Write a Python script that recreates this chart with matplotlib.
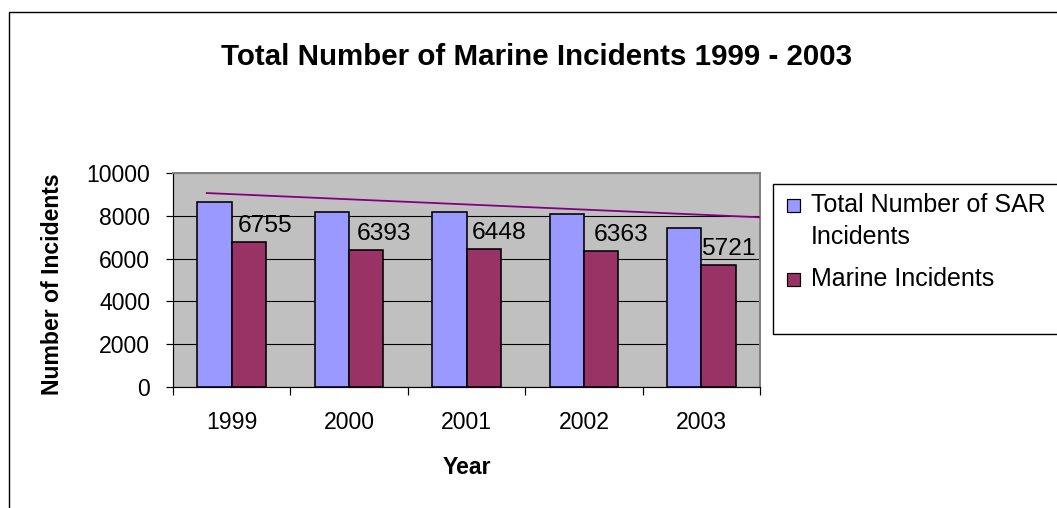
import matplotlib
matplotlib.use("Agg")
import matplotlib.pyplot as plt
from matplotlib.patches import Rectangle
import numpy as np

# ---- data ----
years = ["1999", "2000", "2001", "2002", "2003"]
sar_total = [8630, 8165, 8165, 8070, 7415]
marine = [6755, 6393, 6448, 6363, 5721]
trend_x = [-0.22, 4.5]
trend_values = [9065, 7930]
y_ticks = [0, 2000, 4000, 6000, 8000, 10000]

title = "Total Number of Marine Incidents 1999 - 2003"
x_title = "Year"
y_title = "Number of Incidents"
series_names = ["Total Number of SAR\nIncidents", "Marine Incidents"]

# ---- style ----
plt.rcParams["font.family"] = ["Liberation Sans", "DejaVu Sans"]
BLUE = "#9999FF"
PLUM = "#993366"
PLOT_BG = "#C0C0C0"
W, H = 1057, 508
DPI = 100
PX = 72.0 / DPI  # points per pixel

fig = plt.figure(figsize=(W / DPI, H / DPI), dpi=DPI)
fig.patch.set_facecolor("white")


def fx(px):
    return px / W


def fy(py):
    return 1 - py / H


# outer chart border (runs off the right and bottom edges)
fig.patches.append(Rectangle((fx(9), fy(600)), fx(1200), fy(12) - fy(600),
                             transform=fig.transFigure, fill=False,
                             edgecolor="black", linewidth=1.4 * PX))

ax = fig.add_axes([fx(173), fy(387), fx(760) - fx(173), fy(173) - fy(387)])
ax.set_facecolor(PLOT_BG)

x = np.arange(len(years))
bw = 0.292
ax.bar(x - bw / 2, sar_total, width=bw, color=BLUE, edgecolor="black",
       linewidth=1.6 * PX, zorder=3)
bars_m = ax.bar(x + bw / 2, marine, width=bw, color=PLUM, edgecolor="black",
                linewidth=1.6 * PX, zorder=3)

ax.plot(trend_x, trend_values, color="#800080", linewidth=1.8 * PX, zorder=4,
        solid_capstyle="butt")

# value labels on the marine bars
label_dx = [16, 18, 15.5, 20, 9.5]
for xi, v, dx in zip(x, marine, label_dx):
    ax.annotate(str(v), (xi + bw / 2, v), xytext=(dx, 10),
                textcoords="offset pixels", ha="center", va="baseline",
                fontsize=24.5 * PX, zorder=5)

ax.set_xlim(-0.5, 4.5)
ax.set_ylim(0, 10000)
ax.set_yticks(y_ticks)
ax.set_yticklabels([str(t) for t in y_ticks])
ax.yaxis.grid(True, color="black", linewidth=1.1 * PX, zorder=1)
ax.set_axisbelow(True)

# category boundaries as ticks, year names centred between them
ax.set_xticks(np.arange(-0.5, 5, 1.0))
ax.set_xticklabels([])
ax.set_xticks(x, minor=True)
ax.set_xticklabels(years, minor=True)
ax.tick_params(axis="x", which="major", length=8 * PX, width=1.2 * PX,
               direction="out", color="black")
ax.tick_params(axis="x", which="minor", length=0, pad=24 * PX,
               labelsize=23 * PX)
ax.tick_params(axis="y", length=7 * PX, width=1.2 * PX, direction="out",
               pad=16 * PX, labelsize=23 * PX)

for side in ("top", "right"):
    ax.spines[side].set_color("#808080")
    ax.spines[side].set_linewidth(2 * PX)
for side in ("left", "bottom"):
    ax.spines[side].set_color("black")
    ax.spines[side].set_linewidth(1.2 * PX)

# titles
fig.text(fx(537), fy(65), title, ha="center", va="baseline",
         fontsize=29.5 * PX, fontweight="bold")
fig.text(fx(467), fy(467), x_title, ha="center", va="center",
         fontsize=23 * PX, fontweight="bold")
fig.text(fx(53), fy(284), y_title, ha="center", va="center", rotation=90,
         fontsize=23 * PX, fontweight="bold")

# legend panel
fig.patches.append(Rectangle((fx(773), fy(334)), fx(400), fy(184) - fy(334),
                             transform=fig.transFigure, facecolor="white",
                             edgecolor="black", linewidth=1.4 * PX))
legend_rows = [(BLUE, series_names[0], 212), (PLUM, series_names[1], 286)]
for color, name, base in legend_rows:
    fig.patches.append(Rectangle((fx(787), fy(base)), fx(13), fy(base - 13) - fy(base),
                                 transform=fig.transFigure, facecolor=color,
                                 edgecolor="black", linewidth=1.2 * PX))
    lines = name.split("\n")
    for k, line in enumerate(lines):
        fig.text(fx(811), fy(base + 32 * k), line, ha="left", va="baseline",
                 fontsize=25 * PX)

fig.savefig("out.png", dpi=DPI)
